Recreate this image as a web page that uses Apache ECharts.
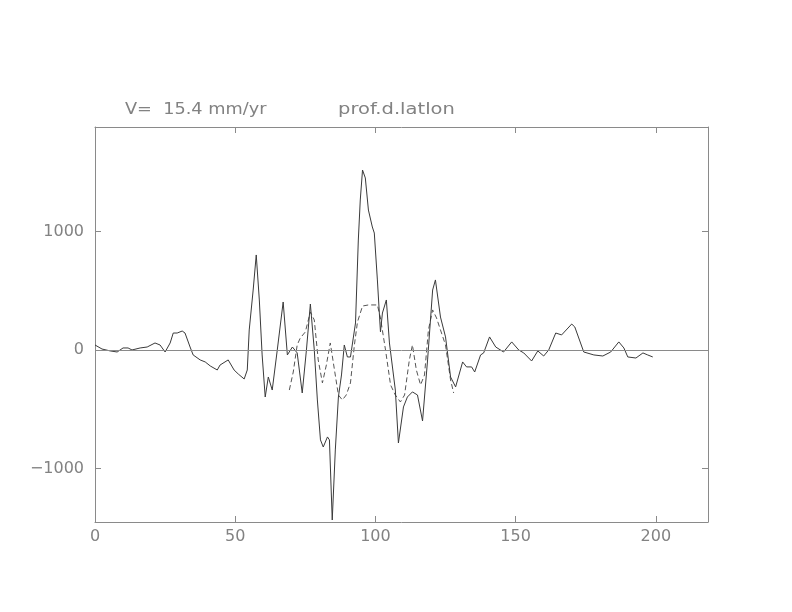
<!DOCTYPE html>
<html>
<head>
<meta charset="utf-8">
<script src="https://cdn.jsdelivr.net/npm/echarts@6/dist/echarts.min.js"></script>
<style>html,body{margin:0;padding:0;background:#fff}#c{width:792px;height:612px}</style>
</head>
<body>
<div id="c"></div>
<script>
// Solid profile
const solidX = [0,2.5,5.4,7.9,10.0,11.8,13.2,16.1,18.6,21.4,23.2,25.0,26.8,27.9,29.3,31.1,32.1,33.9,35.0,37.5,39.3,41.1,43.6,44.6,47.5,49.6,51.1,53.2,54.3,55.0,56.4,57.5,58.6,59.6,60.7,61.8,63.2,65.0,67.1,68.6,70.4,72.1,73.9,75.4,76.8,78.2,79.3,80.4,81.4,82.9,83.6,84.6,85.7,86.8,87.9,88.9,90.0,91.1,92.9,93.9,94.6,95.4,96.4,97.5,98.9,99.6,100.7,101.8,102.5,103.9,105.0,107.1,108.2,110.0,111.4,113.2,115.0,116.8,118.6,120.4,121.4,123.2,125.0,126.8,128.6,131.1,132.5,134.3,135.4,137.5,138.6,140.7,142.9,145.7,148.6,151.1,152.9,155.7,157.9,160.0,161.8,164.3,166.4,170.0,171.1,174.3,177.9,181.1,183.9,186.8,188.6,190.0,192.9,195.4,197.1,198.9];
const solidY = [42,8,-8,-17,17,17,0,17,25,59,42,-17,59,143,143,160,143,25,-42,-84,-101,-135,-169,-127,-84,-169,-203,-245,-169,169,506,802,422,-42,-397,-228,-338,0,405,-42,25,-25,-363,0,388,0,-422,-759,-819,-734,-759,-1435,-844,-397,-211,42,-59,-59,228,928,1266,1519,1452,1181,1038,987,591,152,312,422,59,-338,-785,-481,-397,-354,-380,-599,-84,506,591,278,110,-228,-312,-101,-143,-143,-186,-42,-25,110,25,-17,68,0,-25,-93,-8,-51,0,143,127,219,194,-17,-42,-51,-17,68,17,-59,-68,-25,-42,-59];
// Dashed profile
const dashX = [69.3,70.7,72.1,73.2,75.0,76.8,78.2,79.6,81.1,82.5,83.9,85.4,86.8,88.2,89.6,91.1,92.5,93.6,95.4,97.5,100.7,101.8,103.6,105.4,107.1,108.9,110.4,112.1,113.2,114.6,116.1,117.5,118.9,120.4,121.8,123.2,125.0,126.8,127.9];
const dashY = [-338,-186,42,101,152,321,253,-84,-278,-127,59,-169,-380,-422,-380,-278,42,236,371,380,380,270,0,-295,-380,-439,-380,-84,42,-169,-295,-211,169,338,270,169,42,-253,-363];
const xTicks = [0,50,100,150,200];
const yTicks = [-1000,0,1000];
const titleLeft = 'V=  15.4 mm/yr';
const titleRight = 'prof.d.latlon';

const pair = (xs, ys) => xs.map((x, i) => [x, ys[i]]);
const font = "'DejaVu Sans'";
const gray = '#8a8a8a';
const txt = '#828282';
const XMIN = 0, XMAX = 218.6, YMIN = -1452, YMAX = 1882;

const chart = echarts.init(document.getElementById('c'), null, {renderer: 'canvas'});
const baseX = {
  type: 'value', min: XMIN, max: XMAX, interval: 50,
  axisLine: {show: true, onZero: false, lineStyle: {color: gray, width: 1}},
  axisTick: {show: true, inside: true, length: 6, lineStyle: {color: gray}},
  splitLine: {show: false}
};
const baseY = {
  type: 'value', min: YMIN, max: YMAX,
  axisLine: {show: true, onZero: false, lineStyle: {color: gray, width: 1}},
  axisTick: {show: true, inside: true, length: 6, lineStyle: {color: gray},
    customValues: yTicks},
  splitLine: {show: false}
};
chart.setOption({
  animation: false,
  backgroundColor: '#fff',
  grid: {left: 95, right: 84, top: 127, bottom: 90, containLabel: false},
  graphic: [
    {type: 'text', x: 125, y: 103, scaleX: 1.18, style: {text: titleLeft, font: '15px ' + font, fill: txt}},
    {type: 'text', x: 338, y: 103, scaleX: 1.3, style: {text: titleRight, font: '15px ' + font, fill: txt}}
  ],
  xAxis: [
    Object.assign({}, baseX, {position: 'bottom',
      axisTick: Object.assign({}, baseX.axisTick, {customValues: xTicks}),
      axisLabel: {show: true, margin: 7, color: txt, fontFamily: font, fontSize: 16,
        customValues: xTicks}}),
    Object.assign({}, baseX, {position: 'top',
      axisTick: Object.assign({}, baseX.axisTick, {customValues: xTicks}),
      axisLabel: {show: false}})
  ],
  yAxis: [
    Object.assign({}, baseY, {position: 'left',
      axisLabel: {show: true, margin: 11, color: txt, fontFamily: font, fontSize: 16,
        customValues: yTicks,
        formatter: v => v < 0 ? '\u2212' + Math.abs(v) : String(v)}}),
    Object.assign({}, baseY, {position: 'right', axisLabel: {show: false}})
  ],
  series: [
    {type: 'line', data: pair(solidX, solidY), showSymbol: false, smooth: false,
      lineStyle: {color: '#3a3a3a', width: 1}, z: 3,
      markLine: {silent: true, symbol: 'none', label: {show: false},
        lineStyle: {color: gray, type: 'solid', width: 1},
        data: [{yAxis: 0}]}},
    {type: 'line', data: pair(dashX, dashY), showSymbol: false, smooth: false,
      lineStyle: {color: '#555', width: 1, type: [5, 3]}, z: 2}
  ]
});
</script>
</body>
</html>
